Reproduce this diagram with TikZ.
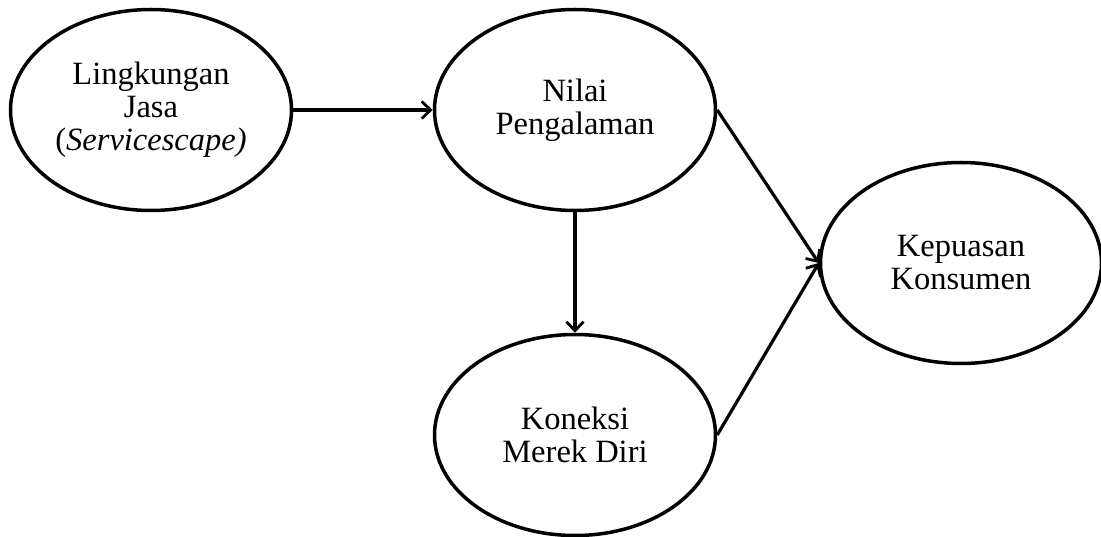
\documentclass[tikz,border=0pt]{standalone}
\usepackage{fontspec}
\setmainfont{Liberation Serif}
\usetikzlibrary{arrows.meta,shapes.geometric}

\begin{document}
\begin{tikzpicture}[x=1pt,y=-1pt,
	construct/.style={ellipse, draw, line width=3.5pt, minimum width=281pt, minimum height=201pt, inner sep=0pt, align=center, font=\fontsize{32.5}{33}\selectfont},
	path/.style={line width=3.2pt, -{Straight Barb[length=9pt,width=17pt,line width=2.8pt]}}]
	\useasboundingbox (0,0) rectangle (1101,537);
	\node[construct] (LJ) at (151,110) {Lingkungan\\Jasa\\(\textit{Servicescape)}};
	\node[construct] (NP) at (575,110) {Nilai\\Pengalaman};
	\node[construct] (KK) at (961,263) {Kepuasan\\Konsumen};
	\node[construct] (KMD) at (575,435) {Koneksi\\Merek Diri};
	
	\draw[path] (LJ.east)--(NP.west);
	\draw[path] (NP.south)--(KMD.north);
	\draw[path] (NP.east)--(KK.west);
	\draw[path] (KMD.east)--(KK.west);
\end{tikzpicture}
\end{document}
